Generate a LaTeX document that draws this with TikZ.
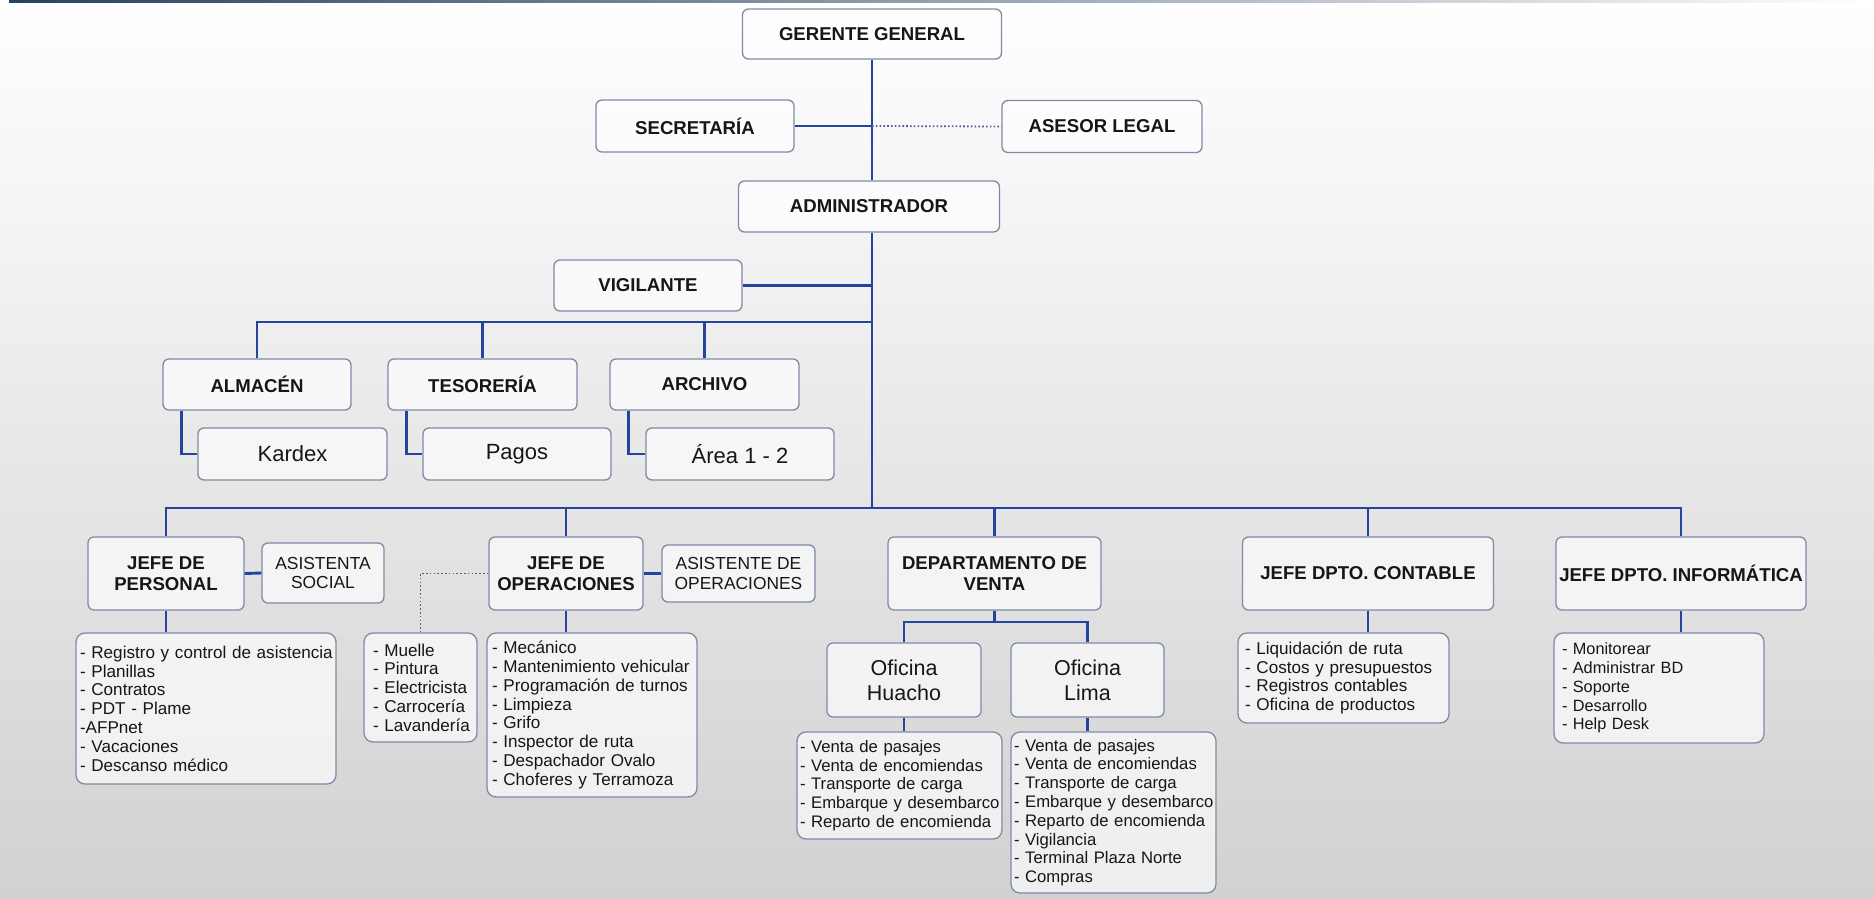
\documentclass[tikz,border=0pt]{standalone}
\usepackage{fontspec}
\setmainfont{Liberation Sans}
\usetikzlibrary{calc}

\definecolor{wire}{RGB}{36,68,158}
\definecolor{edge}{RGB}{125,140,165}
\definecolor{ink}{RGB}{22,22,22}
\definecolor{topbar}{RGB}{40,66,96}

\newcommand\nobreakitems{\hyphenpenalty=10000 \exhyphenpenalty=10000 \hbadness=10000 \hfuzz=40pt }
\newcommand\hdfont{\fontsize{18.6}{21}\selectfont\bfseries}
\newcommand\lsfont{\fontsize{17.1}{18.8}\selectfont\nobreakitems}
\newcommand\lsmid{\fontsize{16.7}{18.8}\selectfont\nobreakitems}
\newcommand\lssmall{\fontsize{16.3}{18.8}\selectfont\nobreakitems}
\newcommand\asfont{\fontsize{17.4}{19.3}\selectfont}
\newcommand\ofont{\fontsize{21.5}{25.3}\selectfont}
\newcommand\kfont{\fontsize{22}{24}\selectfont}

\tikzset{
  card/.style={draw=edge, line width=1.3pt, fill=white, fill opacity=0.65,
    text opacity=1, text=ink, rounded corners=6pt, inner sep=0pt, align=center},
  head/.style={card, font=\hdfont},
  plain/.style={card, font=\asfont},
  office/.style={card, font=\ofont},
  leaf/.style={card, font=\kfont},
  duties/.style={card, font=\lsfont, align=left, rounded corners=9pt, inner ysep=0pt},
  wire/.style={draw=wire, line width=2.9pt},
  advisory/.style={draw=wire!55!gray, line width=1.8pt, dash pattern=on 1.6pt off 2.2pt},
}

\begin{document}
\begin{tikzpicture}[x=1pt,y=-1pt]
  % page background and top rule
  \useasboundingbox (0,0) rectangle (1874,899);
  \shade[top color=white, middle color=black!6, bottom color=black!18] (0,0) rectangle (1874,899);
  \shade[left color=topbar, middle color=topbar!85!white, right color=white] (9,0) rectangle (1874,3);

  % top management
  \node[head, minimum width=259pt, minimum height=50pt] (gg)  at (872,34)    {GERENTE GENERAL};
  \node[head, minimum width=198pt, minimum height=52pt] (sec) at (695,126)   {SECRETARÍA};
  \node[head, minimum width=200pt, minimum height=52pt] (ase) at (1102,126.5) {ASESOR LEGAL};
  \node[head, minimum width=261pt, minimum height=51pt] (adm) at (869,206.5) {ADMINISTRADOR};
  \node[head, minimum width=188pt, minimum height=51pt] (vig) at (648,285.5) {VIGILANTE};

  % support areas
  \node[head, minimum width=188pt, minimum height=51pt] (alm) at (257,384.5)   {ALMACÉN};
  \node[head, minimum width=189pt, minimum height=51pt] (tes) at (482.5,384.5) {TESORERÍA};
  \node[head, minimum width=189pt, minimum height=51pt] (arc) at (704.5,384.5) {ARCHIVO};
  \node[leaf, minimum width=189pt, minimum height=52pt] (kar) at (292.5,454) {Kardex};
  \node[leaf, minimum width=188pt, minimum height=52pt] (pag) at (517,454)   {Pagos};
  \node[leaf, minimum width=188pt, minimum height=52pt] (are) at (740,454)   {Área 1 - 2};

  % department heads
  \node[head, minimum width=156pt, minimum height=73pt] (jp) at (166,573.5)  {JEFE DE\\PERSONAL};
  \node[plain, minimum width=122pt, minimum height=60pt] (asi) at (323,573) {ASISTENTA\\SOCIAL};
  \node[head, minimum width=154pt, minimum height=73pt] (jo) at (566,573.5)  {JEFE DE\\OPERACIONES};
  \node[plain, minimum width=153pt, minimum height=57pt] (aso) at (738.5,573.5) {ASISTENTE DE\\OPERACIONES};
  \node[head, minimum width=213pt, minimum height=73pt] (dv) at (994.5,573.5) {DEPARTAMENTO DE\\VENTA};
  \node[head, minimum width=251pt, minimum height=73pt] (jc) at (1368,573.5) {JEFE DPTO. CONTABLE};
  \node[head, minimum width=250pt, minimum height=73pt] (ji) at (1681,573.5) {JEFE DPTO. INFORMÁTICA};

  % sales offices
  \node[office, minimum width=154pt, minimum height=74pt] (oh) at (904,680)    {Oficina\\Huacho};
  \node[office, minimum width=153pt, minimum height=74pt] (ol) at (1087.5,680) {Oficina\\Lima};

  % duty lists (tied spaces keep every item on one line)
  \node[duties, inner xsep=4pt, text width=252pt, minimum height=151pt] (lp) at (206,708.5)
    {-~Registro~y~control~de~asistencia\\-~Planillas\\-~Contratos\\-~PDT~-~Plame\\-AFPnet\\-~Vacaciones\\-~Descanso~médico};
  \node[duties, inner xsep=9pt, text width=95pt, minimum height=109pt] (lm) at (420.5,687.5)
    {-~Muelle\\-~Pintura\\-~Electricista\\-~Carrocería\\-~Lavandería};
  \node[duties, inner xsep=5pt, text width=200pt, minimum height=164pt] (lo) at (592,715)
    {-~Mecánico\\-~Mantenimiento~vehicular\\-~Programación~de~turnos\\-~Limpieza\\-~Grifo\\-~Inspector~de~ruta\\-~Despachador~Ovalo\\-~Choferes~y~Terramoza};
  \node[duties, font=\lsmid, inner xsep=3pt, text width=199pt, minimum height=107pt] (lh) at (899.5,785.5)
    {-~Venta~de~pasajes\\-~Venta~de~encomiendas\\-~Transporte~de~carga\\-~Embarque~y~desembarco\\-~Reparto~de~encomienda};
  \node[duties, font=\lsmid, inner xsep=3pt, text width=199pt, minimum height=161pt] (ll) at (1113.5,812.5)
    {-~Venta~de~pasajes\\-~Venta~de~encomiendas\\-~Transporte~de~carga\\-~Embarque~y~desembarco\\-~Reparto~de~encomienda\\-~Vigilancia\\-~Terminal~Plaza~Norte\\-~Compras};
  \node[duties, inner xsep=7pt, text width=197pt, minimum height=90pt] (lc) at (1343.5,678)
    {-~Liquidación~de~ruta\\-~Costos~y~presupuestos\\-~Registros~contables\\-~Oficina~de~productos};
  \node[duties, font=\lssmall, inner xsep=8pt, text width=194pt, minimum height=110pt] (li) at (1659,688)
    {-~Monitorear\\-~Administrar~BD\\-~Soporte\\-~Desarrollo\\-~Help~Desk};

  % junction points on the trunk
  \coordinate (hub1) at (872,126);
  \coordinate (hub2) at (872,285.5);
  \coordinate (bus1) at (872,322);
  \coordinate (bus2) at (872,508);
  \coordinate (vsplit) at (994.5,622);

  % trunk and staff links
  \draw[wire] (gg.south) -- (gg.south |- adm.north);
  \draw[wire] (gg.south |- adm.south) -- (bus2);
  \draw[wire] (sec.east) -- (hub1);
  \draw[advisory] (hub1) -- (ase.west);
  \draw[wire] (vig.east) -- (hub2);

  % support areas
  \draw[wire] (alm.north) |- (bus1);
  \draw[wire] (tes.north) -- (tes.north |- bus1);
  \draw[wire] (arc.north) -- (arc.north |- bus1);
  \draw[wire] ([xshift=19pt]alm.south west) |- (kar.west);
  \draw[wire] ([xshift=19pt]tes.south west) |- (pag.west);
  \draw[wire] ([xshift=19pt]arc.south west) |- (are.west);

  % department heads
  \draw[wire] (jp.north) -- (jp.north |- bus2) -- (ji.north |- bus2) -- (ji.north);
  \draw[wire] (jo.north) -- (jo.north |- bus2);
  \draw[wire] (dv.north) -- (dv.north |- bus2);
  \draw[wire] (jc.north) -- (jc.north |- bus2);
  \draw[wire] (jp.east) -- (asi.west);
  \draw[wire] (jo.east) -- (aso.west);
  \draw[advisory] (jo.west) -| (lm.north);

  % duties and offices
  \draw[wire] (jp.south) -- (jp.south |- lp.north);
  \draw[wire] (jo.south) -- (jo.south |- lo.north);
  \draw[wire] (jc.south) -- (jc.south |- lc.north);
  \draw[wire] (ji.south) -- (ji.south |- li.north);
  \draw[wire] (dv.south) -- (vsplit);
  \draw[wire] (oh.north) -- (oh.north |- vsplit) -- (ol.north |- vsplit) -- (ol.north);
  \draw[wire] (oh.south) -- (oh.south |- lh.north);
  \draw[wire] (ol.south) -- (ol.south |- ll.north);
\end{tikzpicture}
\end{document}
